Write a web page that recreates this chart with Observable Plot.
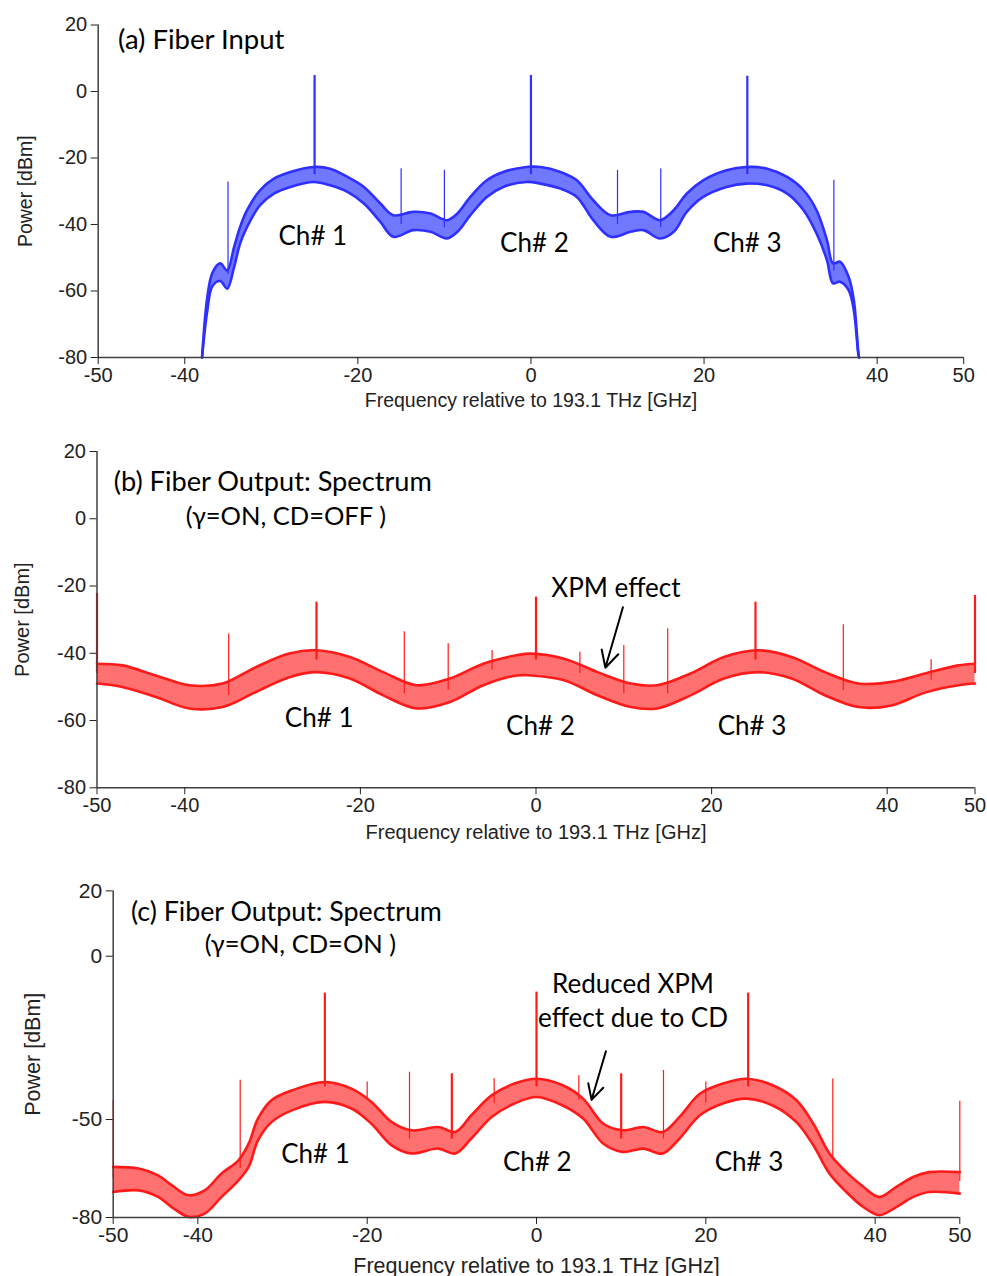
<!DOCTYPE html>
<html>
<head>
<meta charset="utf-8">
<script src="https://cdn.jsdelivr.net/npm/d3@7"></script>
<script src="https://cdn.jsdelivr.net/npm/@observablehq/plot@0.6"></script>
<style>
  html, body { margin: 0; padding: 0; background: #fff; }
  body { width: 987px; height: 1276px; position: relative; overflow: hidden; }
  .panel { position: absolute; left: 0; }
</style>
</head>
<body>
<div id="pa" class="panel" style="top:0px"></div>
<div id="pb" class="panel" style="top:430px"></div>
<div id="pc" class="panel" style="top:860px"></div>
<script>
// ---------- shared axis text ----------
const xTicks = [-50, -40, -20, 0, 20, 40, 50];
const yTicksAB = [20, 0, -20, -40, -60, -80];
const yTicksC = [20, 0, -50, -80];
const xLabel = "Frequency relative to 193.1 THz [GHz]";
const yLabel = "Power [dBm]";

// ---------- (a) Fiber Input : noise band envelope (GHz, dBm) ----------
const freqA = [-38.0, -37.4, -36.8, -35.9, -35.1, -34.3, -33.6, -32.8, -31.3, -29.7, -27.8, -25.1, -23.2, -21.2, -19.3, -17.4, -15.9, -13.6, -11.6, -9.7, -8.5, -7.0, -5.1, -3.2, -0.5, 1.1, 3.4, 5.3, 7.2, 9.2, 11.5, 13.0, 14.9, 16.5, 18.0, 19.9, 22.6, 24.9, 27.3, 29.6, 31.5, 33.0, 34.2, 34.9, 35.7, 36.7, 37.3, 37.8, 37.9];
const hiA = [-80, -62, -54.5, -51.7, -53.8, -46.8, -40.7, -35.7, -29.7, -26.2, -24.2, -22.7, -23.2, -25.7, -28.7, -33.7, -37.2, -36.2, -36.7, -38.7, -36.7, -31.7, -26.7, -24.2, -22.7, -22.7, -24.2, -26.7, -32.7, -37.2, -36.2, -36.2, -38.7, -35.7, -30.7, -26.7, -23.7, -22.7, -23.2, -25.7, -29.7, -35.7, -44.7, -51.7, -51.2, -55.7, -62.7, -77.7, -80];
const loA = [-80, -66, -58.5, -57, -59.3, -52.8, -45.7, -40.7, -34.2, -30.7, -28.7, -27.2, -28.2, -30.2, -33.7, -39.2, -43.7, -41.7, -42.2, -44.2, -42.2, -37.2, -31.7, -28.7, -27.2, -27.7, -29.2, -31.7, -38.7, -43.7, -42.2, -41.7, -44.2, -42.2, -36.2, -31.7, -28.7, -27.7, -28.2, -30.7, -35.7, -42.7, -50.7, -57.7, -57.2, -59.7, -65.7, -78.5, -80];
// carrier tones
const carrierFA = [-25, 0, 25];
const carrierTopA = [4.8, 4.8, 4.6];
const carrierBaseA = [-25, -25, -25];
// small tones
const toneFA = [-35, -15, -10, 10, 15, 35];
const toneTopA = [-27.2, -23.2, -23.7, -23.7, -23.3, -26.7];
const toneBaseA = [-55, -40, -41, -40, -41, -54];

// ---------- (b) Fiber Output, gamma ON, CD OFF ----------
const freqB = [-50, -47.1, -43.3, -39.5, -35.7, -31.9, -28.1, -25.0, -21.2, -17.4, -13.6, -9.8, -6.0, -2.2, -0.6, 3.2, 7.0, 10.8, 13.8, 17.6, 21.4, 25.3, 29.1, 32.9, 36.7, 40.5, 44.3, 48.1, 50];
const hiB = [-43.1, -43.6, -46.6, -49.5, -49.0, -44.1, -40.1, -39.1, -41.1, -45.6, -49.5, -47.5, -43.1, -40.6, -40.1, -41.6, -45.6, -49.0, -49.5, -46.0, -41.1, -39.1, -41.1, -45.6, -49.0, -48.5, -46.0, -43.6, -43.1];
const loB = [-49.0, -50.0, -53.0, -56.4, -56.0, -51.5, -47.1, -45.6, -47.5, -52.5, -56.4, -54.5, -49.5, -46.6, -46.6, -48.0, -52.5, -56.0, -56.4, -52.5, -47.5, -45.6, -47.5, -52.5, -56.0, -55.5, -51.7, -49.5, -49.0];
const carrierFB = [-50, -25, 0, 25, 50];
const carrierTopB = [-22.2, -24.8, -23.3, -24.8, -22.8];
const carrierBaseB = [-46, -42, -42, -42, -46];
const toneFB = [-35, -15, -10, -5, 5, 10, 15, 35, 45];
const toneTopB = [-34.3, -33.6, -37.2, -39.2, -39.7, -37.7, -32.7, -31.5, -41.9];
const toneBaseB = [-52.5, -52, -51, -45, -46, -52, -52, -51, -48];

// ---------- (c) Fiber Output, gamma ON, CD ON ----------
const freqC = [-50, -47.0, -44.7, -43.1, -41.1, -39.2, -37.2, -35.2, -34.0, -32.9, -31.3, -28.9, -25.0, -21.8, -19.5, -17.1, -14.8, -11.6, -9.6, -7.7, -5.3, -2.6, 0, 3.1, 5.5, 7.9, 10.2, 12.6, 14.9, 16.9, 19.3, 22.0, 24.8, 27.9, 30.7, 32.7, 34.6, 36.6, 38.6, 40.5, 42.5, 44.5, 46.4, 50];
const hiC = [-64.5, -65.0, -67.1, -70.1, -73.2, -71.7, -66.5, -62.5, -57.4, -49.7, -44.1, -41.1, -38.5, -40.6, -44.6, -50.8, -53.3, -52.3, -53.8, -48.7, -42.6, -39.0, -37.5, -39.5, -43.6, -51.3, -53.3, -52.3, -53.8, -49.2, -42.1, -39.0, -37.5, -39.5, -44.1, -51.3, -60.4, -66.1, -70.6, -73.7, -70.6, -67.6, -66.1, -66.1];
const loC = [-72.2, -71.7, -73.7, -76.8, -79.8, -78.8, -73.7, -68.6, -64.5, -56.4, -50.8, -47.2, -44.6, -46.7, -51.3, -57.9, -60.4, -58.9, -60.4, -55.8, -49.2, -45.1, -43.1, -45.7, -49.7, -57.4, -59.9, -58.9, -60.4, -55.8, -48.7, -45.1, -43.6, -45.7, -50.8, -57.9, -66.5, -72.2, -76.8, -79.3, -76.8, -73.7, -72.2, -72.7];
const carrierFC = [-25, 0, 25];
const carrierTopC = [-11.3, -11.0, -11.3];
const carrierBaseC = [-40, -40, -40];
const fwmFC = [-10, 10];
const fwmTopC = [-36.0, -36.0];
const fwmBaseC = [-56, -56];
const toneFC = [-50, -35, -20, -15, -5, 5, 15, 20, 35, 50];
const toneTopC = [-44.1, -38.0, -38.5, -35.5, -37.5, -36.6, -35.0, -38.5, -37.6, -44.4];
const toneBaseC = [-68, -65, -44, -56, -45, -44, -56, -45, -62, -69];

// ---------- annotations ----------
const annFont = "Lato, 'Noto Sans', sans-serif";
const titlesA = [{x: -47.7, y: 12.9, t: "(a) Fiber Input"}];
const subsA = [];
const chA = [{x: -25.2, y: -46.3, t: "Ch# 1"}, {x: 0.4, y: -48.4, t: "Ch# 2"}, {x: 25.0, y: -48.4, t: "Ch# 3"}];
const titlesB = [{x: -48.1, y: 8.2, t: "(b) Fiber Output: Spectrum"}];
const subsB = [{x: -39.9, y: -1.8, t: "(γ=ON, CD=OFF )"}];
const chB = [{x: -24.7, y: -61.8, t: "Ch# 1"}, {x: 0.5, y: -64.2, t: "Ch# 2"}, {x: 24.6, y: -64.2, t: "Ch# 3"}, {x: 9.1, y: -23.3, t: "XPM effect"}];
const arrowB = [{x1: 9.9, y1: -26.3, x2: 7.9, y2: -44.3}];
const titlesC = [{x: -47.9, y: 10.9, t: "(c) Fiber Output: Spectrum"}];
const subsC = [{x: -39.2, y: 0.9, t: "(γ=ON, CD=ON )"}];
const chC = [{x: -26.1, y: -63.4, t: "Ch# 1"}, {x: 0.1, y: -65.8, t: "Ch# 2"}, {x: 25.1, y: -65.8, t: "Ch# 3"}, {x: 11.4, y: -11.3, t: "Reduced XPM"}, {x: 11.4, y: -21.7, t: "effect due to CD"}];
const arrowC = [{x1: 8.2, y1: -29.1, x2: 6.5, y2: -44.0}];

// ---------- helpers ----------
const band = (f, hi, lo) => f.map((x, i) => ({f: x, hi: hi[i], lo: lo[i]}));
const spikes = (f, top, base) => f.map((x, i) => ({f: x, top: top[i], base: base[i]}));
const fmt = d => String(d);

function makePanel(cfg) {
  const marks = [
    Plot.areaY(cfg.band, {x: "f", y1: "lo", y2: "hi", fill: cfg.light, curve: "catmull-rom"}),
    Plot.lineY(cfg.band, {x: "f", y: "hi", stroke: cfg.color, strokeWidth: 2.6, curve: "catmull-rom"}),
    Plot.lineY(cfg.band, {x: "f", y: "lo", stroke: cfg.color, strokeWidth: 2.6, curve: "catmull-rom"}),
    Plot.ruleX(cfg.thin, {x: "f", y1: "base", y2: "top", stroke: cfg.color, strokeWidth: 1.2}),
    Plot.ruleX(cfg.thick, {x: "f", y1: "base", y2: "top", stroke: cfg.color, strokeWidth: 2.2}),
    Plot.ruleX([-50], {stroke: "#404040", strokeWidth: 1.5}),
    Plot.ruleY([-80], {stroke: "#404040", strokeWidth: 1.5}),
    Plot.axisX({ticks: xTicks, tickFormat: fmt, tickSize: 7, tickPadding: 3, label: null, fontSize: cfg.fs}),
    Plot.axisY({ticks: cfg.yTicks, tickFormat: fmt, tickSize: 7, tickPadding: 4, label: null, fontSize: cfg.fs}),
    Plot.text([xLabel], {frameAnchor: "bottom", dy: cfg.xlDy, lineAnchor: "bottom", fontSize: cfg.lfs}),
    Plot.text([yLabel], {frameAnchor: "left", dx: cfg.ylDx, rotate: -90, textAnchor: "middle", fontSize: cfg.lfs}),
    Plot.text(cfg.titles, {x: "x", y: "y", text: "t", textAnchor: "start", lineAnchor: "bottom", fontSize: cfg.tfs, fontFamily: annFont, fill: "black"}),
    Plot.text(cfg.subs, {x: "x", y: "y", text: "t", textAnchor: "start", lineAnchor: "bottom", fontSize: cfg.sfs, fontFamily: annFont, fill: "black"}),
    Plot.text(cfg.labels, {x: "x", y: "y", text: "t", textAnchor: "middle", lineAnchor: "bottom", fontSize: cfg.afs, fontFamily: annFont, fill: "black"})
  ];
  if (cfg.arrows) marks.push(Plot.arrow(cfg.arrows, {x1: "x1", y1: "y1", x2: "x2", y2: "y2", stroke: "black", strokeWidth: 2, headLength: 14, headAngle: 55}));
  return Plot.plot({
    width: 987,
    height: cfg.height,
    marginTop: cfg.mt, marginBottom: cfg.mb, marginLeft: cfg.ml, marginRight: cfg.mr,
    x: {domain: [-50, 50]},
    y: {domain: [-80, 20]},
    style: {fontFamily: "'Liberation Sans', Arial, sans-serif", color: "#222", background: "transparent", overflow: "visible"},
    marks
  });
}

document.getElementById("pa").append(makePanel({
  height: 420, mt: 24.5, mb: 63, ml: 97.7, mr: 23.8,
  band: band(freqA, hiA, loA),
  thick: spikes(carrierFA, carrierTopA, carrierBaseA),
  thin: spikes(toneFA, toneTopA, toneBaseA),
  color: "#2f2fff", light: "#6f78ff",
  yTicks: yTicksAB, fs: 20, lfs: 19.5, xlDy: 49, ylDx: -72.7, afs: 26, tfs: 27.5, sfs: 25.5,
  titles: titlesA, subs: subsA, labels: chA
}));

document.getElementById("pb").append(makePanel({
  height: 420, mt: 21, mb: 62.7, ml: 96.5, mr: 12.5,
  band: band(freqB, hiB, loB),
  thick: spikes(carrierFB, carrierTopB, carrierBaseB),
  thin: spikes(toneFB, toneTopB, toneBaseB),
  color: "#ff1a1a", light: "#ff7070",
  yTicks: yTicksAB, fs: 20, lfs: 20, xlDy: 50.7, ylDx: -74, afs: 26, tfs: 27.2, sfs: 25.5,
  titles: titlesB, subs: subsB, labels: chB, arrows: arrowB
}));

document.getElementById("pc").append(makePanel({
  height: 416, mt: 30.4, mb: 59, ml: 112.7, mr: 27.7,
  band: band(freqC, hiC, loC),
  thick: spikes(carrierFC, carrierTopC, carrierBaseC).concat(spikes(fwmFC, fwmTopC, fwmBaseC)),
  thin: spikes(toneFC, toneTopC, toneBaseC),
  color: "#ff1a1a", light: "#ff7070",
  yTicks: yTicksC, fs: 21, lfs: 21.5, xlDy: 55.5, ylDx: -79.7, afs: 26, tfs: 26.8, sfs: 25.5,
  titles: titlesC, subs: subsC, labels: chC, arrows: arrowC
}));
</script>
</body>
</html>
